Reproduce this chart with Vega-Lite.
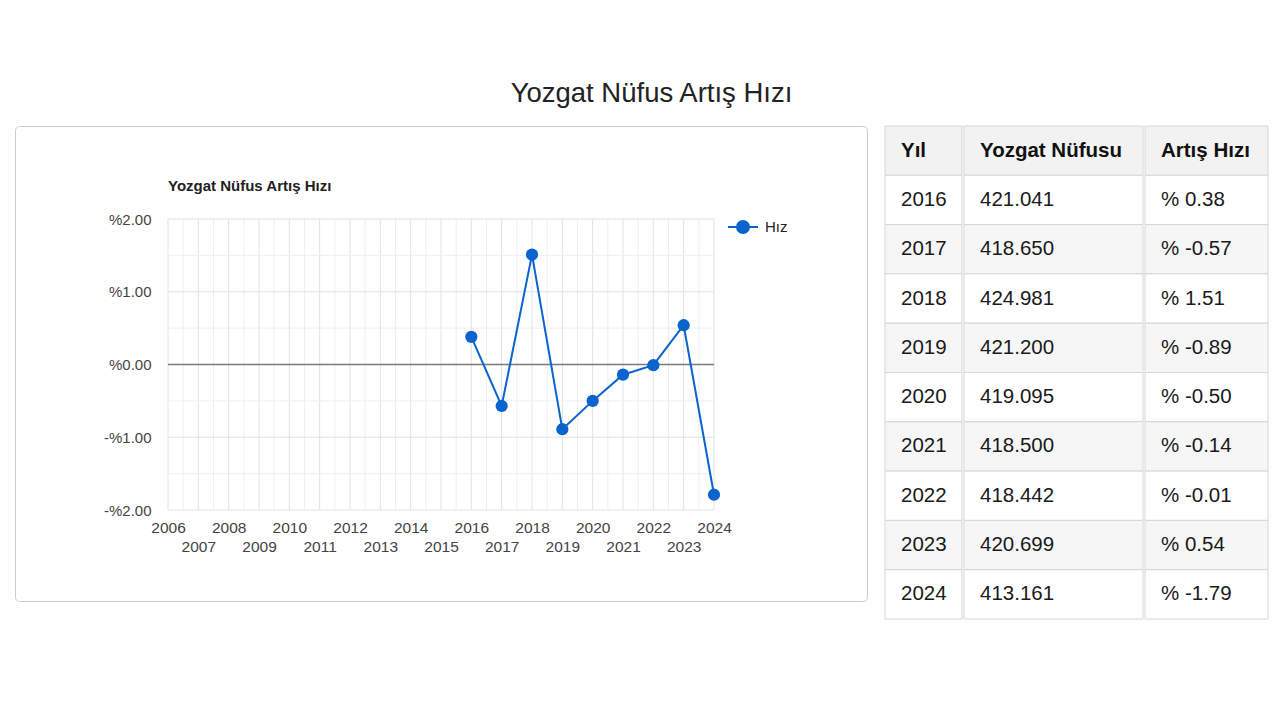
{
  "$schema": "https://vega.github.io/schema/vega-lite/v6.json",
  "background": "white",
  "padding": {"left": 14, "top": 80, "right": 13, "bottom": 10},
  "config": {"font": "Liberation Sans", "view": {"stroke": null}},
  "title": {"text": "Yozgat Nüfus Artış Hızı", "fontSize": 27.5, "font": "Liberation Sans", "fontWeight": "normal", "color": "#222222", "anchor": "middle", "dx": 10, "offset": 18},
  "datasets": {
    "nufus": [
      {"yil": 2016, "nufus": 421041, "hiz": 0.38},
      {"yil": 2017, "nufus": 418650, "hiz": -0.57},
      {"yil": 2018, "nufus": 424981, "hiz": 1.51},
      {"yil": 2019, "nufus": 421200, "hiz": -0.89},
      {"yil": 2020, "nufus": 419095, "hiz": -0.50},
      {"yil": 2021, "nufus": 418500, "hiz": -0.14},
      {"yil": 2022, "nufus": 418442, "hiz": -0.01},
      {"yil": 2023, "nufus": 420699, "hiz": 0.54},
      {"yil": 2024, "nufus": 413161, "hiz": -1.79}
    ],
    "tablo": [
      {"yil": "Yıl", "nufus": "Yozgat Nüfusu", "hiz": "Artış Hızı"},
      {"yil": "2016", "nufus": "421.041", "hiz": "% 0.38"},
      {"yil": "2017", "nufus": "418.650", "hiz": "% -0.57"},
      {"yil": "2018", "nufus": "424.981", "hiz": "% 1.51"},
      {"yil": "2019", "nufus": "421.200", "hiz": "% -0.89"},
      {"yil": "2020", "nufus": "419.095", "hiz": "% -0.50"},
      {"yil": "2021", "nufus": "418.500", "hiz": "% -0.14"},
      {"yil": "2022", "nufus": "418.442", "hiz": "% -0.01"},
      {"yil": "2023", "nufus": "420.699", "hiz": "% 0.54"},
      {"yil": "2024", "nufus": "413.161", "hiz": "% -1.79"}
    ],
    "dikeyIzgara": [
      {"yil": 2006}, {"yil": 2006.5}, {"yil": 2007}, {"yil": 2007.5}, {"yil": 2008}, {"yil": 2008.5},
      {"yil": 2009}, {"yil": 2009.5}, {"yil": 2010}, {"yil": 2010.5}, {"yil": 2011}, {"yil": 2011.5},
      {"yil": 2012}, {"yil": 2012.5}, {"yil": 2013}, {"yil": 2013.5}, {"yil": 2014}, {"yil": 2014.5},
      {"yil": 2015}, {"yil": 2015.5}, {"yil": 2016}, {"yil": 2016.5}, {"yil": 2017}, {"yil": 2017.5},
      {"yil": 2018}, {"yil": 2018.5}, {"yil": 2019}, {"yil": 2019.5}, {"yil": 2020}, {"yil": 2020.5},
      {"yil": 2021}, {"yil": 2021.5}, {"yil": 2022}, {"yil": 2022.5}, {"yil": 2023}, {"yil": 2023.5},
      {"yil": 2024}
    ],
    "yatayIzgara": [
      {"deger": -2}, {"deger": -1.5}, {"deger": -1}, {"deger": -0.5}, {"deger": 0},
      {"deger": 0.5}, {"deger": 1}, {"deger": 1.5}, {"deger": 2}
    ]
  },
  "spacing": 16,
  "hconcat": [
    {
      "width": 852,
      "height": 475,
      "view": {"stroke": "#cccccc", "cornerRadius": 4},
      "title": {"text": "Yozgat Nüfus Artış Hızı", "anchor": "start", "frame": "group", "dx": 153, "offset": -75, "baseline": "middle", "fontSize": 15, "fontWeight": "bold", "color": "#222222"},
      "layer": [
        {
          "data": {"name": "dikeyIzgara"},
          "mark": {"type": "rule", "strokeWidth": 1},
          "encoding": {
            "x": {"field": "yil", "type": "quantitative", "title": null,
              "scale": {"domain": [2006, 2024], "range": [153, 699], "nice": false, "zero": false},
              "axis": {"orient": "bottom", "offset": -91, "zindex": 2, "title": null, "values": [2006,2007,2008,2009,2010,2011,2012,2013,2014,2015,2016,2017,2018,2019,2020,2021,2022,2023,2024],
                "format": "d", "domain": false, "ticks": false, "grid": false, "labelFontSize": 15.5, "labelColor": "#444444",
                "labelPadding": {"condition": {"test": "datum.value % 2 === 1", "value": 29}, "value": 10},
                "labelOverlap": false, "labelFlush": false, "labelBound": false}},
            "y": {"datum": -2, "scale": {"domain": [-2, 2], "range": [384, 93], "nice": false, "zero": false}},
            "y2": {"datum": 2},
            "stroke": {"condition": {"test": "datum.yil % 1 === 0", "value": "#e2e2e2"}, "value": "#efefef"}
          }
        },
        {
          "data": {"name": "yatayIzgara"},
          "mark": {"type": "rule", "strokeWidth": 1},
          "encoding": {
            "y": {"field": "deger", "type": "quantitative", "title": null,
              "scale": {"domain": [-2, 2], "range": [384, 93], "nice": false, "zero": false},
              "axis": {"orient": "left", "offset": -153, "zindex": 2, "title": null, "values": [-2, -1, 0, 1, 2],
                "labelExpr": "datum.value < 0 ? '-%' + format(-datum.value, '.2f') : '%' + format(datum.value, '.2f')",
                "domain": false, "ticks": false, "grid": false, "labelFontSize": 15, "labelColor": "#444444", "labelPadding": 17}},
            "x": {"datum": 2006},
            "x2": {"datum": 2024},
            "stroke": {"condition": {"test": "datum.deger % 1 === 0", "value": "#e2e2e2"}, "value": "#efefef"}
          }
        },
        {
          "data": {"name": "yatayIzgara"},
          "transform": [{"filter": "datum.deger === 0"}],
          "mark": {"type": "rule", "strokeWidth": 1.5, "color": "#7a7a7a"},
          "encoding": {
            "y": {"field": "deger", "type": "quantitative"},
            "x": {"datum": 2006},
            "x2": {"datum": 2024}
          }
        },
        {
          "data": {"name": "nufus"},
          "mark": {"type": "line", "strokeWidth": 2},
          "encoding": {
            "x": {"field": "yil", "type": "quantitative"},
            "y": {"field": "hiz", "type": "quantitative"},
            "color": {"datum": "Hız", "scale": {"range": ["#0b63ce"]},
              "legend": {"orient": "none", "legendX": 712, "legendY": 85, "title": null, "labelFontSize": 15, "labelColor": "#222222",
                "symbolType": "M-1,0L1,0M0.4,0A0.4,0.4,0,1,1,-0.4,0A0.4,0.4,0,1,1,0.4,0Z", "symbolSize": 900, "symbolStrokeWidth": 2,
                "labelOffset": 6,
                "encode": {"symbols": {"update": {"stroke": {"value": "#0b63ce"}, "fill": {"value": "#0b63ce"}, "strokeWidth": {"value": 2}}}}}}
          }
        },
        {
          "data": {"name": "nufus"},
          "mark": {"type": "point", "filled": true, "size": 150, "opacity": 1},
          "encoding": {
            "x": {"field": "yil", "type": "quantitative"},
            "y": {"field": "hiz", "type": "quantitative"},
            "color": {"datum": "Hız"}
          }
        }
      ]
    },
    {
      "spacing": 0,
      "hconcat": [
        {
          "width": 77, "height": 493,
          "data": {"name": "tablo"},
          "encoding": {"y": {"field": "yil", "type": "nominal", "sort": null, "axis": null, "scale": {"paddingInner": 0, "paddingOuter": 0}}},
          "layer": [
            {"mark": {"type": "rect", "stroke": "#d6d6d6", "strokeWidth": 1},
             "encoding": {"fill": {"condition": [{"test": "datum.yil === 'Yıl'", "value": "#f2f2f2"}, {"test": "toNumber(datum.yil) % 2 === 1", "value": "#f6f6f6"}], "value": "#ffffff"}}},
            {"transform": [{"filter": "datum.yil !== 'Yıl'"}],
             "mark": {"type": "text", "align": "left", "baseline": "middle", "dx": 16, "fontSize": 20.5, "color": "#1a1a1a"},
             "encoding": {"text": {"field": "yil"}, "x": {"datum": 0, "scale": {"domain": [0, 1]}, "axis": null}}},
            {"transform": [{"filter": "datum.yil === 'Yıl'"}],
             "mark": {"type": "text", "align": "left", "baseline": "middle", "dx": 16, "fontSize": 20.5, "fontWeight": "bold", "color": "#111111"},
             "encoding": {"text": {"field": "yil"}, "x": {"datum": 0, "scale": {"domain": [0, 1]}, "axis": null}}}
          ]
        },
        {
          "width": 179, "height": 493,
          "data": {"name": "tablo"},
          "encoding": {"y": {"field": "yil", "type": "nominal", "sort": null, "axis": null, "scale": {"paddingInner": 0, "paddingOuter": 0}}},
          "layer": [
            {"mark": {"type": "rect", "stroke": "#d6d6d6", "strokeWidth": 1},
             "encoding": {"fill": {"condition": [{"test": "datum.yil === 'Yıl'", "value": "#f2f2f2"}, {"test": "toNumber(datum.yil) % 2 === 1", "value": "#f6f6f6"}], "value": "#ffffff"}}},
            {"transform": [{"filter": "datum.yil !== 'Yıl'"}],
             "mark": {"type": "text", "align": "left", "baseline": "middle", "dx": 16, "fontSize": 20.5, "color": "#1a1a1a"},
             "encoding": {"text": {"field": "nufus"}, "x": {"datum": 0, "scale": {"domain": [0, 1]}, "axis": null}}},
            {"transform": [{"filter": "datum.yil === 'Yıl'"}],
             "mark": {"type": "text", "align": "left", "baseline": "middle", "dx": 16, "fontSize": 20.5, "fontWeight": "bold", "color": "#111111"},
             "encoding": {"text": {"field": "nufus"}, "x": {"datum": 0, "scale": {"domain": [0, 1]}, "axis": null}}}
          ]
        },
        {
          "width": 123, "height": 493,
          "data": {"name": "tablo"},
          "encoding": {"y": {"field": "yil", "type": "nominal", "sort": null, "axis": null, "scale": {"paddingInner": 0, "paddingOuter": 0}}},
          "layer": [
            {"mark": {"type": "rect", "stroke": "#d6d6d6", "strokeWidth": 1},
             "encoding": {"fill": {"condition": [{"test": "datum.yil === 'Yıl'", "value": "#f2f2f2"}, {"test": "toNumber(datum.yil) % 2 === 1", "value": "#f6f6f6"}], "value": "#ffffff"}}},
            {"transform": [{"filter": "datum.yil !== 'Yıl'"}],
             "mark": {"type": "text", "align": "left", "baseline": "middle", "dx": 16, "fontSize": 20.5, "color": "#1a1a1a"},
             "encoding": {"text": {"field": "hiz"}, "x": {"datum": 0, "scale": {"domain": [0, 1]}, "axis": null}}},
            {"transform": [{"filter": "datum.yil === 'Yıl'"}],
             "mark": {"type": "text", "align": "left", "baseline": "middle", "dx": 16, "fontSize": 20.5, "fontWeight": "bold", "color": "#111111"},
             "encoding": {"text": {"field": "hiz"}, "x": {"datum": 0, "scale": {"domain": [0, 1]}, "axis": null}}}
          ]
        }
      ]
    }
  ]
}
